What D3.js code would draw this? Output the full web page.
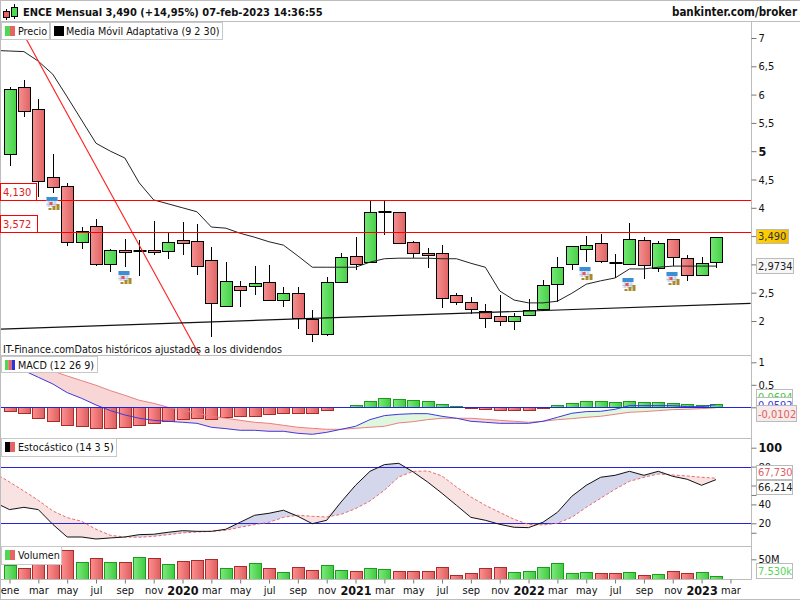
<!DOCTYPE html>
<html>
<head>
<meta charset="utf-8">
<script src="https://d3js.org/d3.v7.min.js"></script>
<style>
  html, body { margin: 0; padding: 0; background: #fff; }
  svg { display: block; }
  text { font-family: "DejaVu Sans Condensed", "DejaVu Sans", sans-serif; font-size: 10.7px; fill: #111; }
  .bold { font-weight: bold; }
</style>
</head>
<body>
<div id="chart"></div>
<script>
// precio mensual, ene 2019 -> feb 2023
var opens  = [4.95,6.13,5.75,4.54,4.39,3.40,3.68,3.01,3.25,3.24,3.25,3.24,3.43,3.41,3.08,2.27,2.62,2.62,2.69,2.37,2.49,2.04,1.77,2.69,3.15,3.04,3.93,3.93,3.40,3.20,3.20,2.46,2.34,2.18,2.09,2.00,2.11,2.21,2.65,3.01,3.27,3.38,3.02,3.01,3.43,2.94,3.45,3.11,2.81,3.04];
var closes = [6.10,5.71,4.47,4.37,3.40,3.59,3.01,3.25,3.22,3.24,3.22,3.40,3.38,2.97,2.32,2.71,2.55,2.67,2.37,2.49,2.04,1.77,2.69,3.13,3.01,3.93,3.93,3.38,3.20,3.17,2.41,2.34,2.21,2.05,2.00,2.09,2.19,2.64,2.95,3.32,3.34,3.06,3.02,3.45,2.99,3.38,3.13,2.81,3.03,3.49];
var highs  = [6.13,6.26,5.92,4.95,4.44,3.66,3.80,3.27,3.45,3.43,3.77,3.55,3.75,3.71,3.31,3.04,2.71,2.97,2.99,2.60,2.60,2.19,2.78,3.20,3.48,4.12,4.13,3.93,3.41,3.29,3.34,2.49,2.42,2.30,2.46,2.14,2.39,2.73,3.13,3.32,3.50,3.54,3.18,3.73,3.49,3.41,3.45,3.17,3.13,3.49];
var lows   = [4.74,5.60,4.19,4.26,3.33,3.27,2.97,2.87,2.95,2.80,3.17,3.09,3.17,2.81,1.72,2.27,2.25,2.46,2.37,2.25,1.86,1.63,1.73,2.69,2.90,3.04,3.52,3.38,3.11,2.94,2.23,2.28,2.12,1.88,1.91,1.84,2.11,2.18,2.34,2.90,3.04,3.02,2.76,3.01,2.74,2.87,2.97,2.71,2.81,2.94];

// las series de indicadores empiezan un mes antes (dic 2018), cortadas por el borde
var adaptiveMA = [6.78,6.77,6.76,6.59,6.36,5.96,5.55,5.14,5.00,4.88,4.44,4.14,4.07,4.00,3.93,3.66,3.64,3.55,3.48,3.40,3.34,3.15,2.95,2.95,2.95,2.95,3.04,3.10,3.11,3.11,3.11,3.10,3.10,3.02,2.95,2.53,2.37,2.32,2.32,2.35,2.49,2.65,2.71,2.76,2.92,2.92,2.95,2.97,2.97,2.97,2.97];

var macdLine = [0.963,0.815,0.667,0.519,0.326,0.2,0.052,-0.074,-0.17,-0.244,-0.289,-0.311,-0.333,-0.356,-0.444,-0.474,-0.511,-0.511,-0.533,-0.533,-0.578,-0.6,-0.556,-0.489,-0.422,-0.274,-0.185,-0.156,-0.141,-0.141,-0.2,-0.244,-0.311,-0.333,-0.356,-0.356,-0.356,-0.311,-0.222,-0.133,-0.096,-0.089,-0.044,0.037,0.037,0.037,0.037,0.015,0.015,0.059];
var macdSignal = [1.119,1.015,0.911,0.807,0.696,0.593,0.489,0.37,0.267,0.156,0.089,0,-0.067,-0.133,-0.2,-0.244,-0.289,-0.333,-0.356,-0.4,-0.444,-0.467,-0.489,-0.489,-0.467,-0.444,-0.422,-0.348,-0.319,-0.274,-0.244,-0.244,-0.244,-0.267,-0.289,-0.311,-0.333,-0.311,-0.274,-0.252,-0.222,-0.2,-0.156,-0.111,-0.096,-0.074,-0.052,-0.044,-0.03,-0.0102];
var macdHist = [-0.096,-0.14,-0.25,-0.32,-0.41,-0.43,-0.47,-0.47,-0.45,-0.41,-0.36,-0.32,-0.27,-0.25,-0.27,-0.23,-0.21,-0.19,-0.16,-0.14,-0.14,-0.14,-0.07,0,0.044,0.13,0.2,0.18,0.156,0.13,0.067,0.022,-0.03,-0.05,-0.07,-0.07,-0.07,-0.03,0.044,0.09,0.13,0.13,0.11,0.13,0.11,0.11,0.09,0.067,0.044,0.0694];

var stochK = [41.9,34.5,36.9,34.5,18.9,5.5,5.5,3.4,4.5,5.5,8.0,8.4,10.5,12.2,11.5,11.5,13.7,21.1,28.5,30.6,33.8,27.4,19.6,23.2,42.6,60.2,75.0,82.1,83.5,74.3,63.7,51.7,39.0,26.3,23.2,18.9,15.8,15.4,21.1,31.6,48.6,60.2,68.7,70.8,75.0,70.8,75.0,69.7,66.6,60.2,66.214];
var stochD = [72.9,63.7,54.2,44.3,33.1,26.0,22.1,13.7,7.3,5.5,5.2,6.2,8.0,9.8,10.8,11.5,12.6,15.8,18.6,21.1,26.3,28.5,27.4,26.7,29.5,35.5,43.6,54.9,69.0,75.0,75.4,70.1,58.4,47.9,39.0,31.6,24.2,18.9,18.2,20.0,26.3,36.9,46.5,56.0,64.4,68.7,72.2,71.1,70.1,68.7,67.73];

var volumes = [35,27.5,48,61,72.5,42.5,52.5,42.5,42.5,55,52.5,37.5,45,47.5,50,27.5,32.5,40,27.5,17.5,30,22.5,35,22.5,20,27.5,25,20,20,20,30,10,15,27.5,30,17.5,20,30,40,15,17.5,15,15,17.5,10,12.5,20,15,17.5,7.53];
var volumeUp = "GRRRRGRGRGRGRRRGRGRGRRGGRGGRRRRRRRRGGGGGGRRGRGRRGG".split("");

var monthLabels = ["ene","mar","may","jul","sep","nov","2020","mar","may","jul","sep","nov","2021","mar","may","jul","sep","nov","2022","mar","may","jul","sep","nov","2023","mar"];
var monthIndex = d3.range(0, 52, 2);

var priceTicks = [7,6.5,6,5.5,5,4.5,4,3.5,3,2.5,2];
var macdTicks = [1,0.5,0];
var stochTicks = [100,80,60,50,40,20,10];
var stochLabels = [100,80,60,40,20];
var levels = [4.13,3.572];
var dividendMonths = [3,8,40,43,46];
var dividendLevels = [4.19,2.88,2.95,2.76,2.87];
// lineas de tendencia [mes, precio]
var redTrend = [[0.52,7.28],[13.6,1.2]];
var blackTrend = [[-0.8,1.855],[51.4,2.31]];

var W = 800, H = 600, axisX = 751.5;
var comma = function(v) { return String(v).replace(".", ","); };

var svg = d3.select("#chart").append("svg").attr("width", W).attr("height", H);
var defs = svg.append("defs");

function gradient(id, c1, c2) {
  var g = defs.append("linearGradient").attr("id", id);
  g.append("stop").attr("offset", "0%").attr("stop-color", c1);
  g.append("stop").attr("offset", "100%").attr("stop-color", c2);
}
gradient("candleUp", "#74e874", "#48d048");
gradient("candleDown", "#f59090", "#e06464");
gradient("barUp", "#7ee87e", "#3fcc3f");
gradient("barDown", "#ff8f8f", "#dd5f5f");
gradient("swatchGold", "#ffd400", "#f5bc00");

function clip(id, top, bottom) {
  defs.append("clipPath").attr("id", id).append("rect")
    .attr("x", 1).attr("y", top).attr("width", axisX - 1).attr("height", bottom - top);
}
clip("clipMain", 22, 355);
clip("clipMacd", 356, 438);
clip("clipStoch", 438, 546);
clip("clipVol", 546, 579);

var x = d3.scaleLinear().domain([0, 49]).range([9.5, 716]);
var yPrice = d3.scaleLinear().domain([7, 2]).range([38, 321]);
var yMacd = d3.scaleLinear().domain([1, 0]).range([362.3, 407.3]);
var yStoch = d3.scaleLinear().domain([100, 20]).range([447.7, 523.3]);
var yVol = d3.scaleLinear().domain([0, 50]).range([579.3, 559.3]);

// x para series que empiezan un mes antes
var line1 = function(y) {
  return d3.line().x(function(d, i) { return x(i - 1); }).y(function(d) { return y(d); });
};

// ---- precio ----
var main = svg.append("g").attr("clip-path", "url(#clipMain)");
var candleData = opens.map(function(o, i) {
  return {i: i, o: o, c: closes[i], h: highs[i], l: lows[i]};
});
var px = function(v) { return Math.round(v) + 0.5; };

main.selectAll("line.wick").data(candleData).enter().append("line")
  .attr("class", "wick")
  .attr("x1", function(d) { return px(x(d.i)); })
  .attr("x2", function(d) { return px(x(d.i)); })
  .attr("y1", function(d) { return yPrice(d.h); })
  .attr("y2", function(d) { return yPrice(d.l); })
  .attr("stroke", "#000").attr("shape-rendering", "crispEdges");

main.selectAll("rect.body").data(candleData.filter(function(d) { return d.o != d.c; })).enter().append("rect")
  .attr("class", "body")
  .attr("x", function(d) { return px(x(d.i)) - 6; })
  .attr("width", 12)
  .attr("y", function(d) { return px(yPrice(Math.max(d.o, d.c))); })
  .attr("height", function(d) { return Math.max(1, Math.round(Math.abs(yPrice(d.o) - yPrice(d.c)))); })
  .attr("fill", function(d) { return d.c > d.o ? "url(#candleUp)" : "url(#candleDown)"; })
  .attr("stroke", "#000").attr("shape-rendering", "crispEdges");

main.selectAll("rect.doji").data(candleData.filter(function(d) { return d.o == d.c; })).enter().append("rect")
  .attr("class", "doji")
  .attr("x", function(d) { return px(x(d.i)) - 6; })
  .attr("width", 13).attr("height", 2)
  .attr("y", function(d) { return Math.round(yPrice(d.c)) - 1; })
  .attr("fill", "#000");

main.append("path").attr("d", line1(yPrice)(adaptiveMA))
  .attr("fill", "none").attr("stroke", "#222").attr("stroke-width", 1);

var trendLine = d3.line().x(function(d) { return x(d[0]); }).y(function(d) { return yPrice(d[1]); });
main.append("path").attr("d", trendLine(redTrend)).attr("fill", "none").attr("stroke", "#ff2020").attr("stroke-width", 1.1);
main.append("path").attr("d", trendLine(blackTrend)).attr("fill", "none").attr("stroke", "#111").attr("stroke-width", 1.2);

main.selectAll("line.level").data(levels).enter().append("line")
  .attr("class", "level")
  .attr("x1", 1).attr("x2", axisX)
  .attr("y1", function(d) { return px(yPrice(d)); })
  .attr("y2", function(d) { return px(yPrice(d)); })
  .attr("stroke", "#ff0000").attr("shape-rendering", "crispEdges");

// iconos de dividendo
dividendMonths.forEach(function(m, k) {
  var g = main.append("g").attr("transform", "translate(" + (Math.round(x(m)) - 6.5) + "," + Math.round(yPrice(dividendLevels[k])) + ")");
  g.append("rect").attr("width", 11).attr("height", 10).attr("fill", "#e6eaf4");
  g.append("rect").attr("width", 11).attr("height", 4).attr("fill", "#3b8fd4");
  [2, 5, 8].forEach(function(c) {
    g.append("rect").attr("x", c).attr("y", 4).attr("width", 1).attr("height", 6).attr("fill", "#b8c4dc");
  });
  g.append("rect").attr("y", 7).attr("width", 11).attr("height", 1).attr("fill", "#b8c4dc");
  g.append("rect").attr("x", 3).attr("y", 5).attr("width", 3).attr("height", 3).attr("fill", "#e8505a");
  [[2,11,2],[6,9,4],[10,7,6]].forEach(function(b) {
    g.append("rect").attr("x", b[0]).attr("y", b[1]).attr("width", 3).attr("height", b[2]).attr("fill", "#a88a28");
  });
});

svg.append("text").attr("x", 3).attr("y", 352.5).text("IT-Finance.comDatos históricos ajustados a los dividendos");

// relleno entre dos series: upColor donde a > b, downColor donde a < b
function fillBetween(parent, a, b, y, offset, upColor, downColor) {
  var xi = function(d, i) { return x(i - offset); };
  parent.append("path").attr("fill", upColor).attr("d", d3.area().x(xi)
    .y0(function(d, i) { return y(b[i]); })
    .y1(function(d, i) { return y(Math.max(a[i], b[i])); })(a));
  parent.append("path").attr("fill", downColor).attr("d", d3.area().x(xi)
    .y0(function(d, i) { return y(a[i]); })
    .y1(function(d, i) { return y(Math.max(a[i], b[i])); })(a));
}

// ---- MACD ----
var macd = svg.append("g").attr("clip-path", "url(#clipMacd)");
fillBetween(macd, macdLine, macdSignal, yMacd, 0, "#dff6df", "#f8d6d6");
macd.selectAll("rect").filter(".hist").data(macdHist).enter().append("rect")
  .attr("class", "hist")
  .attr("x", function(d, i) { return px(x(i)) - 6; })
  .attr("width", 12)
  .attr("y", function(d) { return px(Math.min(yMacd(d), yMacd(0))); })
  .attr("height", function(d) { return Math.round(Math.abs(yMacd(d) - yMacd(0))); })
  .attr("fill", function(d) { return d > 0 ? "url(#barUp)" : "url(#barDown)"; })
  .attr("stroke", function(d) { return d > 0 ? "#1c9c1c" : "#a82c2c"; })
  .attr("shape-rendering", "crispEdges");
var macdPath = d3.line().x(function(d, i) { return x(i); }).y(function(d) { return yMacd(d); });
macd.append("path").attr("d", macdPath(macdSignal)).attr("fill", "none").attr("stroke", "#e88080").attr("stroke-width", 1);
macd.append("path").attr("d", macdPath(macdLine)).attr("fill", "none").attr("stroke", "#3a3ae0").attr("stroke-width", 1);
macd.append("line").attr("x1", 1).attr("x2", axisX)
  .attr("y1", px(yMacd(0))).attr("y2", px(yMacd(0)))
  .attr("stroke", "#2424e0").attr("shape-rendering", "crispEdges");

// ---- estocastico ----
var stoch = svg.append("g").attr("clip-path", "url(#clipStoch)");
fillBetween(stoch, stochK, stochD, yStoch, 1, "#d4d7ec", "#f9e2e2");
[80, 20].forEach(function(v) {
  stoch.append("line").attr("x1", 1).attr("x2", axisX)
    .attr("y1", px(yStoch(v))).attr("y2", px(yStoch(v)))
    .attr("stroke", "#2424e0").attr("shape-rendering", "crispEdges");
});
stoch.append("path").attr("d", line1(yStoch)(stochD)).attr("fill", "none")
  .attr("stroke", "#e86a6a").attr("stroke-width", 1).attr("stroke-dasharray", "3,2");
stoch.append("path").attr("d", line1(yStoch)(stochK)).attr("fill", "none")
  .attr("stroke", "#111").attr("stroke-width", 1);

// ---- volumen ----
var vol = svg.append("g").attr("clip-path", "url(#clipVol)");
vol.selectAll("rect").data(volumes).enter().append("rect")
  .attr("x", function(d, i) { return px(x(i)) - 6; })
  .attr("width", 12)
  .attr("y", function(d) { return px(yVol(d)); })
  .attr("height", function(d) { return yVol(0) - yVol(d); })
  .attr("fill", function(d, i) { return volumeUp[i] == "G" ? "url(#barUp)" : "url(#barDown)"; })
  .attr("stroke", function(d, i) { return volumeUp[i] == "G" ? "#1c9c1c" : "#a82c2c"; })
  .attr("shape-rendering", "crispEdges");

// ---- marco ----
var gray = "#bdbdbd";
[[0,0.5,W,0.5],[0,21.5,W,21.5],[0,355.5,axisX,355.5],[0,438.5,axisX,438.5],[0,546.5,axisX,546.5],[0,579.5,axisX,579.5],[0,599.5,W,599.5],[0.5,0,0.5,H],[axisX,22,axisX,579.5]].forEach(function(l) {
  svg.append("line").attr("x1", l[0]).attr("y1", l[1]).attr("x2", l[2]).attr("y2", l[3]).attr("stroke", gray);
});

// ---- ejes ----
function rightAxis(scale, ticks, labels) {
  var g = svg.append("g").attr("transform", "translate(" + axisX + ",0)")
    .call(d3.axisRight(scale).tickValues(ticks).tickSize(5).tickPadding(2)
      .tickFormat(function(d) { return labels.indexOf(d) >= 0 ? comma(d) : ""; }));
  g.select(".domain").remove();
  g.selectAll("line").attr("stroke", "#777");
  g.selectAll("text").style("font-size", "11px");
  return g;
}
var priceAxis = rightAxis(yPrice, priceTicks, [7,6.5,6,5.5,5,4.5,4,2.5,2]);
priceAxis.selectAll("text").filter(function(d) { return d == 5; }).attr("class", "bold").style("font-size", "12.5px");
rightAxis(yMacd, macdTicks, [1,0.5]);
var stochAxis = rightAxis(yStoch, stochTicks, stochLabels);
stochAxis.selectAll("text").filter(function(d) { return d == 100; }).attr("class", "bold").style("font-size", "12.5px");
var volAxis = svg.append("g").attr("transform", "translate(" + axisX + ",0)")
  .call(d3.axisRight(yVol).tickValues([50]).tickSize(5).tickPadding(2).tickFormat(function(d) { return d + "M"; }));
volAxis.select(".domain").remove();
volAxis.selectAll("line").attr("stroke", "#777");
volAxis.selectAll("text").style("font-size", "11px");

var xAxis = svg.append("g").attr("transform", "translate(0,579.5)")
  .call(d3.axisBottom(x).tickValues(monthIndex).tickSize(4).tickPadding(3)
    .tickFormat(function(d, i) { return monthLabels[i]; }));
xAxis.select(".domain").remove();
xAxis.selectAll("line").attr("stroke", "#777");
xAxis.selectAll("text").style("font-size", "11px");
xAxis.selectAll("text").filter(function(d, i) { return /^\d/.test(monthLabels[i]); })
  .attr("class", "bold").style("font-size", "12.5px").attr("dy", "0.65em");

// ---- etiquetas de valor ----
function valueBox(xx, yy, w, h, txt, color, bg) {
  svg.append("rect").attr("x", xx + 0.5).attr("y", yy + 0.5).attr("width", w).attr("height", h)
    .attr("fill", bg || "#fff").attr("stroke", "#bbb").attr("shape-rendering", "crispEdges");
  svg.append("text").attr("x", xx + 2).attr("y", yy + h - 3.5).style("fill", color).style("font-size", "11px").text(txt);
}
valueBox(756, 229, 32, 14, "3,490", "#333", "url(#swatchGold)");
valueBox(756, 258, 37, 15, "2,9734", "#222", "#f6f6f6");
valueBox(756, 389, 36, 15, "0,0694", "#44cc44", "#fff");
valueBox(756, 397, 36, 15, "0,0592", "#3a3ae0", "#fff");
valueBox(756, 405, 40, 16, "-0,0102", "#e06060", "#f6eaea");
valueBox(756, 465, 36, 14, "67,730", "#e06060", "#fff");
valueBox(756, 480, 36, 14, "66,214", "#222", "#fff");
valueBox(756, 563, 36, 15, "7.530k", "#55d455", "#fff");

function levelBox(y1, y2, w, txt) {
  svg.append("rect").attr("x", 0.5).attr("y", y1 + 0.5).attr("width", w).attr("height", y2 - y1)
    .attr("fill", "#fff").attr("stroke", "#ff0000").attr("shape-rendering", "crispEdges");
  svg.append("text").attr("x", 3).attr("y", y2 - 4).style("fill", "#e02020").style("font-size", "11px").text(txt);
}
levelBox(183, 200, 36, comma(levels[0].toFixed(3)));
levelBox(215, 232, 37, comma(levels[1].toFixed(3)));

// ---- leyendas ----
function legendBox(xx, yy, w, h, txt, swatches, textX) {
  svg.append("rect").attr("x", xx + 0.5).attr("y", yy + 0.5).attr("width", w).attr("height", h)
    .attr("fill", "#fff").attr("stroke", "#c8c8c8").attr("shape-rendering", "crispEdges");
  swatches.forEach(function(c, i) {
    var sw = 10 / swatches.length;
    svg.append("rect").attr("x", xx + 4 + i * sw).attr("y", yy + 4).attr("width", sw).attr("height", 10).attr("fill", c);
  });
  svg.append("text").attr("x", xx + textX).attr("y", yy + 13).text(txt);
}
legendBox(1, 22, 48, 17, "Precio", ["#50d850", "#e86464"], 17);
legendBox(50, 22, 172, 17, "Media Móvil Adaptativa (9 2 30)", ["#000"], 16);
legendBox(1, 356, 96, 16, "MACD (12 26 9)", ["#50d850", "#e86464", "#3030e0"], 17);
legendBox(1, 438, 115, 18, "Estocástico (14 3 5)", ["#000", "#e86464"], 17);
legendBox(1, 546, 60, 18, "Volumen", ["#50d850", "#e86464"], 17);

// ---- cabecera ----
var header = svg.append("g");
header.append("line").attr("x1", 6.5).attr("x2", 6.5).attr("y1", 9).attr("y2", 20).attr("stroke", "#000");
header.append("rect").attr("x", 3.5).attr("y", 11.5).attr("width", 6).attr("height", 6).attr("fill", "#e86464").attr("stroke", "#000");
header.append("line").attr("x1", 14.5).attr("x2", 14.5).attr("y1", 4).attr("y2", 19).attr("stroke", "#000");
header.append("rect").attr("x", 11.5).attr("y", 7.5).attr("width", 6).attr("height", 9).attr("fill", "#50d850").attr("stroke", "#000");
svg.append("text").attr("class", "bold").style("font-size", "11px").attr("x", 23).attr("y", 16)
  .text("ENCE Mensual 3,490 (+14,95%) 07-feb-2023 14:36:55");
svg.append("text").attr("class", "bold").style("font-size", "11.5px").attr("x", 797).attr("y", 16).attr("text-anchor", "end")
  .text("bankinter.com/broker");
</script>
</body>
</html>
